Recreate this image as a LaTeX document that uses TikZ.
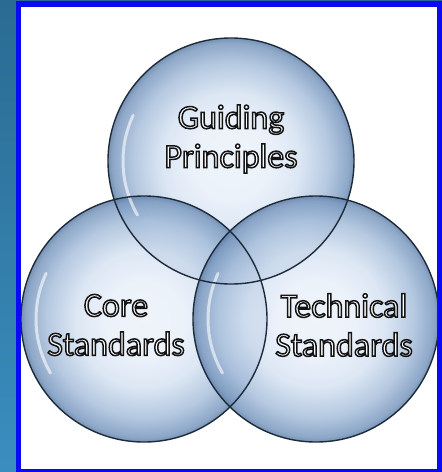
\documentclass[tikz,border=0pt]{standalone}
\usepackage{fontspec}
\setmainfont{Carlito}
\usetikzlibrary{calc}

\definecolor{stripTop}{HTML}{2A6B92}
\definecolor{stripBot}{HTML}{3A8EBF}
\definecolor{frameBlue}{HTML}{0A0AF5}
\definecolor{rimDark}{HTML}{1E2B3A}

% bubble look of one set
\pgfdeclareradialshading{bubble}{\pgfpoint{0bp}{0bp}}{%
  rgb(0bp)=(0.93,0.95,0.98);
  rgb(8bp)=(0.91,0.94,0.98);
  rgb(14bp)=(0.84,0.89,0.95);
  rgb(20bp)=(0.66,0.75,0.86);
  rgb(24bp)=(0.48,0.60,0.75);
  rgb(25bp)=(0.38,0.50,0.66);
  rgb(50bp)=(0.38,0.50,0.66)}

% outlined letters: white fill, dark stroke
\newcommand{\outl}[1]{\special{pdf:code 2 Tr 1.5 w 0.08 0.08 0.08 RG}#1\special{pdf:code 0 Tr}}

\tikzset{
  rim/.style={draw=rimDark, line width=1.4pt},
  setlabel/.style={text=white, align=center,
    font=\fontsize{34}{39}\selectfont, inner sep=0pt}
}

\begin{document}
\begin{tikzpicture}[x=1pt,y=-1pt]

% Page and frame
\useasboundingbox (0,0) rectangle (442,472);
\shade[top color=stripTop, bottom color=stripBot] (0,0) rectangle (442,472);
\fill[frameBlue] (16,1) rectangle (442,472);
\fill[white] (21,7) rectangle (437,469);

% Radius and centres of the three sets
\def\r{123}
\coordinate (G) at (231,161);
\coordinate (C) at (144,319);
\coordinate (T) at (316,319);

% The bubbles, clipped to the white area
\begin{scope}
\clip (21,7) rectangle (437,469);
\foreach \c in {G,C,T}
  \shade[shading=bubble, fill opacity=0.85] (\c) circle (\r);
% soft highlights
\foreach \c in {G,C,T}
  \draw[white, opacity=0.6, line width=3pt, line cap=round]
    ($(\c)+(150:108)$) arc [start angle=150, end angle=205, radius=108];
\foreach \c in {G,C,T}
  \draw[rim] (\c) circle (\r);
\end{scope}

% Labels of the sets
\node[setlabel] (gp) at (231,139) {\outl{Guiding}\\\outl{Principles}};
\node[setlabel] (cs) at (116,325) {\outl{Core}\\\outl{Standards}};
\node[setlabel] (ts) at (344,325) {\outl{Technical}\\\outl{Standards}};

\end{tikzpicture}
\end{document}
